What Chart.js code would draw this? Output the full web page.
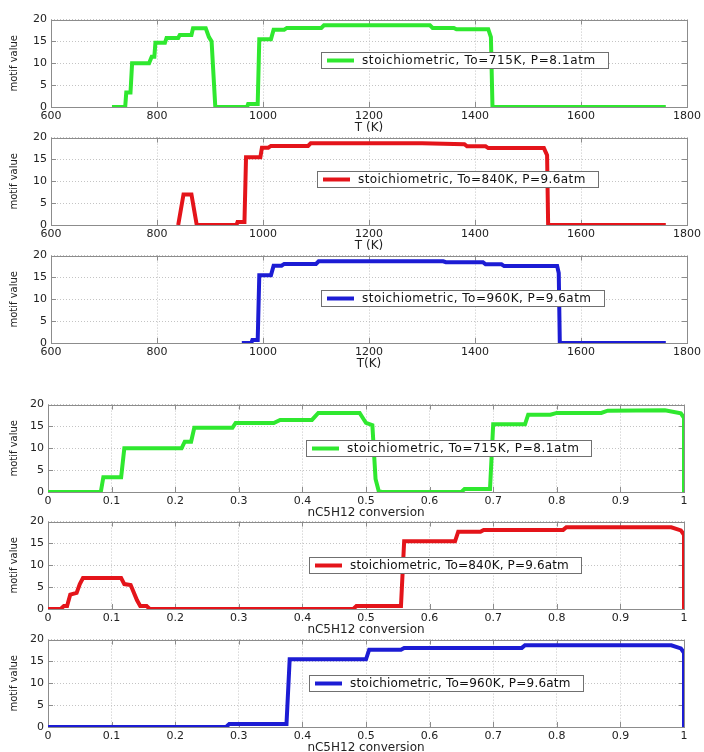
<!DOCTYPE html>
<html>
<head>
<meta charset="UTF-8">
<title>motif value</title>
<script src="https://cdn.jsdelivr.net/npm/chart.js"></script>
<style>
  body { margin: 0; background: #fff; width: 704px; height: 752px; position: relative; overflow: hidden; }
  canvas { position: absolute; left: 0; }
</style>
</head>
<body>
<canvas id="c1" width="704" height="130"></canvas>
<canvas id="c2" width="704" height="130"></canvas>
<canvas id="c3" width="704" height="130"></canvas>
<canvas id="c4" width="704" height="130"></canvas>
<canvas id="c5" width="704" height="130"></canvas>
<canvas id="c6" width="704" height="130"></canvas>
<script>
// --- data ---
// top: motif value vs temperature
const tempK715 = [715, 740, 742, 750, 753, 785, 790, 795, 797, 815, 818, 840, 843, 865, 868, 892, 898, 903, 910, 970, 972, 990, 993, 1015, 1020, 1040, 1045, 1110, 1115, 1315, 1320, 1360, 1365, 1425, 1430, 1433, 1760];
const motifT715 = [0, 0, 3.3, 3.3, 10, 10, 11.5, 11.5, 14.7, 14.7, 15.8, 15.8, 16.5, 16.5, 18, 18, 16, 15, 0, 0, 0.7, 0.7, 15.5, 15.5, 17.7, 17.7, 18.1, 18.1, 18.7, 18.7, 18.1, 18.1, 17.8, 17.8, 16, 0, 0];

const tempK840 = [840, 850, 865, 875, 950, 952, 965, 968, 995, 998, 1010, 1015, 1085, 1090, 1300, 1380, 1385, 1420, 1425, 1530, 1536, 1538, 1760];
const motifT840 = [0, 7, 7, 0, 0, 0.7, 0.7, 15.5, 15.5, 17.7, 17.7, 18.1, 18.1, 18.7, 18.7, 18.5, 18, 18, 17.6, 17.6, 16, 0, 0];

const tempK960 = [960, 978, 980, 990, 993, 1015, 1020, 1035, 1040, 1100, 1105, 1340, 1345, 1415, 1420, 1450, 1455, 1555, 1558, 1560, 1760];
const motifT960 = [0, 0, 0.7, 0.7, 15.5, 15.5, 17.7, 17.7, 18.1, 18.1, 18.7, 18.7, 18.5, 18.5, 18, 18, 17.6, 17.6, 16, 0, 0];

// bottom: motif value vs nC5H12 conversion
const conv715 = [0, 0.083, 0.087, 0.115, 0.12, 0.21, 0.215, 0.225, 0.23, 0.29, 0.295, 0.355, 0.365, 0.415, 0.425, 0.49, 0.5, 0.51, 0.515, 0.52, 0.525, 0.65, 0.655, 0.695, 0.7, 0.75, 0.755, 0.79, 0.8, 0.87, 0.88, 0.97, 0.995, 1, 1];
const motifC715 = [0, 0, 3.4, 3.4, 10, 10, 11.5, 11.5, 14.7, 14.7, 15.8, 15.8, 16.5, 16.5, 18.1, 18.1, 15.8, 15.3, 3, 0.2, 0, 0, 0.7, 0.7, 15.5, 15.5, 17.7, 17.7, 18.1, 18.1, 18.6, 18.7, 18, 17, 0];

const conv840 = [0, 0.02, 0.025, 0.03, 0.035, 0.045, 0.05, 0.055, 0.115, 0.12, 0.13, 0.14, 0.145, 0.155, 0.16, 0.48, 0.485, 0.555, 0.56, 0.64, 0.645, 0.68, 0.685, 0.81, 0.815, 0.98, 0.995, 1, 1];
const motifC840 = [0, 0, 0.7, 0.7, 3.3, 3.7, 5.7, 7.1, 7.1, 5.7, 5.5, 2, 0.7, 0.7, 0, 0, 0.7, 0.7, 15.5, 15.5, 17.7, 17.7, 18.1, 18.1, 18.7, 18.7, 18, 17, 0];

const conv960 = [0, 0.28, 0.285, 0.375, 0.38, 0.5, 0.505, 0.555, 0.56, 0.745, 0.75, 0.98, 0.995, 1, 1];
const motifC960 = [0, 0, 0.7, 0.7, 15.5, 15.5, 17.7, 17.7, 18.1, 18.1, 18.7, 18.7, 18, 17, 0];

const labels = [
  'stoichiometric, To=715K, P=8.1atm',
  'stoichiometric, To=840K, P=9.6atm',
  'stoichiometric, To=960K, P=9.6atm'
];
const tempTicks = [600, 1800, 200];   // min, max, step
const convTicks = [0, 1, 0.1];
const motifTicks = [0, 20, 5];

const GREEN = '#2fe82f', RED = '#e4141a', BLUE = '#1c1cd4';
const FONT = '"DejaVu Sans", sans-serif';

// matlab style box with inner tick marks
const frame = {
  id: 'frame',
  beforeDatasetsDraw(chart) {
    const {ctx, chartArea: a, scales} = chart;
    ctx.save();
    ctx.strokeStyle = '#8c8c8c';
    ctx.lineWidth = 1;
    ctx.beginPath();
    scales.x.ticks.forEach(t => {
      const px = Math.round(scales.x.getPixelForValue(t.value)) + 0.5;
      ctx.moveTo(px, a.bottom); ctx.lineTo(px, a.bottom - 5);
      ctx.moveTo(px, a.top); ctx.lineTo(px, a.top + 5);
    });
    scales.y.ticks.forEach(t => {
      const py = Math.round(scales.y.getPixelForValue(t.value)) + 0.5;
      ctx.moveTo(a.left, py); ctx.lineTo(a.left + 5, py);
      ctx.moveTo(a.right, py); ctx.lineTo(a.right - 5, py);
    });
    ctx.stroke();
    ctx.strokeRect(Math.round(a.left) + 0.5, Math.round(a.top) + 0.5,
                   Math.round(a.right - a.left), Math.round(a.bottom - a.top));
    ctx.restore();
  }
};

// legend box drawn inside the axes
const legendBox = {
  id: 'legendBox',
  afterDraw(chart, args, opts) {
    const {ctx, chartArea: a} = chart;
    const ds = chart.data.datasets[0];
    ctx.save();
    ctx.font = '12px ' + FONT;
    ctx.letterSpacing = opts.ls + 'px';
    const tw = ctx.measureText(ds.label).width;
    const w = Math.round(41 + tw + 12), h = 16;
    const x = Math.round(a.left + opts.fx * (a.right - a.left));
    const cy = Math.round(a.top + opts.fy * (a.bottom - a.top));
    ctx.fillStyle = '#fff';
    ctx.fillRect(x, cy - h / 2, w, h);
    ctx.strokeStyle = '#707070';
    ctx.lineWidth = 1;
    ctx.strokeRect(x + 0.5, cy - h / 2 + 0.5, w, h);
    ctx.strokeStyle = ds.borderColor;
    ctx.lineWidth = 4;
    ctx.beginPath();
    ctx.moveTo(x + 6, cy + 0.5); ctx.lineTo(x + 33, cy + 0.5);
    ctx.stroke();
    ctx.fillStyle = '#111';
    ctx.textBaseline = 'middle';
    ctx.fillText(ds.label, x + 41, cy + 1);
    ctx.restore();
  }
};

function points(xs, ys) {
  return xs.map((v, i) => ({x: v, y: ys[i]}));
}

function makeChart(id, top, left, right, xs, ys, color, label, xt, xTitle, lpos) {
  const cv = document.getElementById(id);
  cv.style.top = (top - 10) + 'px';
  new Chart(cv, {
    type: 'line',
    data: {
      datasets: [{
        label: label,
        data: points(xs, ys),
        borderColor: color,
        borderWidth: 4,
        pointRadius: 0,
        fill: false,
        tension: 0
      }]
    },
    options: {
      responsive: false,
      animation: false,
      events: [],
      layout: { padding: { top: 10, left: 0, right: 704 - right, bottom: 0 } },
      plugins: { legend: { display: false }, tooltip: { enabled: false }, legendBox: lpos },
      scales: {
        x: {
          type: 'linear',
          min: xt[0], max: xt[1],
          afterFit: s => { s.height = 32; },
          ticks: {
            stepSize: xt[2], padding: 3, color: '#222', maxRotation: 0,
            font: { family: FONT, size: 11 },
            callback: v => String(Math.round(v * 10) / 10)
          },
          grid: { color: '#c4c4c4', drawTicks: false },
          border: { display: false, dash: [1, 2] },
          title: { display: true, text: xTitle, color: '#222', font: { family: FONT, size: 12 }, padding: { top: 0, bottom: 4 } }
        },
        y: {
          min: motifTicks[0], max: motifTicks[1],
          afterFit: s => { s.width = left; },
          ticks: { stepSize: motifTicks[2], padding: 4, color: '#222', font: { family: FONT, size: 11 } },
          grid: { color: '#c4c4c4', drawTicks: false },
          border: { display: false, dash: [1, 2] },
          title: { display: true, text: 'motif value', color: '#222', font: { family: FONT, size: 10 }, padding: { top: 8, bottom: 0 } }
        }
      }
    },
    plugins: [frame, legendBox]
  });
}

makeChart('c1', 19, 51, 688, tempK715, motifT715, GREEN, labels[0], tempTicks, 'T (K)', {fx: 0.425, fy: 0.466, ls: 0.6});
makeChart('c2', 137, 51, 688, tempK840, motifT840, RED, labels[1], tempTicks, 'T (K)', {fx: 0.419, fy: 0.477, ls: 0.42});
makeChart('c3', 255, 51, 688, tempK960, motifT960, BLUE, labels[2], tempTicks, 'T(K)', {fx: 0.425, fy: 0.49, ls: 0.47});
makeChart('c4', 404, 48, 684, conv715, motifC715, GREEN, labels[0], convTicks, 'nC5H12 conversion', {fx: 0.406, fy: 0.5, ls: 0.56});
makeChart('c5', 521, 48, 684, conv840, motifC840, RED, labels[1], convTicks, 'nC5H12 conversion', {fx: 0.41, fy: 0.5, ls: 0.15});
makeChart('c6', 639, 48, 684, conv960, motifC960, BLUE, labels[2], convTicks, 'nC5H12 conversion', {fx: 0.41, fy: 0.5, ls: 0.2});
</script>
</body>
</html>
